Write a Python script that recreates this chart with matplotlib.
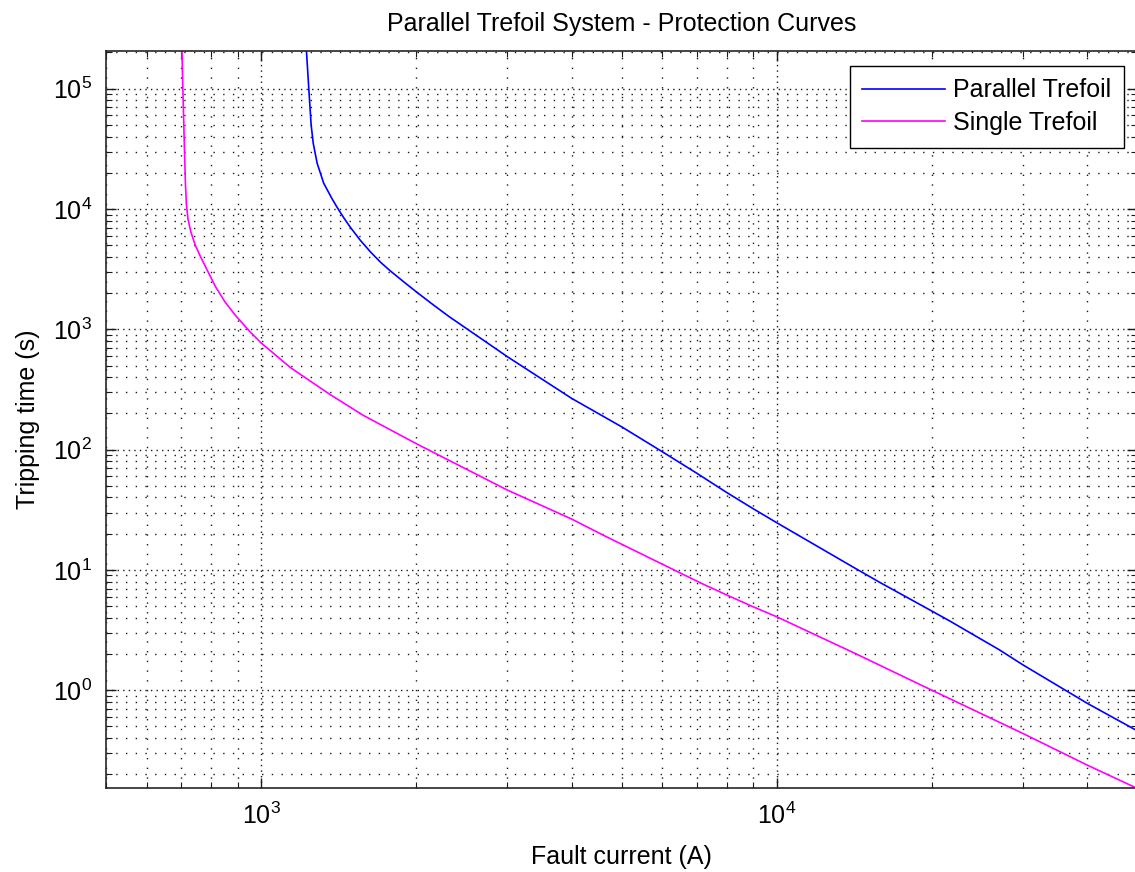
"""
Parallel vs single trefoil protection curves (log-log), MATLAB-like look.
"""

import matplotlib
matplotlib.use("Agg")
import matplotlib.pyplot as plt
from matplotlib.ticker import LogLocator, NullFormatter

# values
single_current = [702, 704, 707, 710, 713, 716, 721, 730, 745, 763, 792, 816, 850, 892,
                  950, 1000, 1140, 1362, 1580, 2000, 3000, 4000, 4682, 7102, 8000,
                  9000, 10000, 14100, 20000, 21670, 30000, 40000, 50000]
single_time = [207000, 120000, 60000, 30000, 16000, 11000, 8300, 6500, 5000, 4000, 2900,
               2250, 1700, 1300, 960, 770, 480, 286, 192, 112, 46.2, 26.5, 18.8, 7.83,
               6.19, 4.94, 4.08, 2.05, 1.00, 0.85, 0.438, 0.239, 0.153]

parallel_current = [1224, 1237, 1250, 1262, 1284, 1322, 1370, 1404, 1446, 1489, 1557,
                    1628, 1703, 1780, 1890, 2006, 2129, 2311, 3000, 4000, 5000,
                    6000, 7000, 8000, 9000, 10000, 14100, 15830, 20000, 21670, 27070,
                    30000, 40000, 50000]
parallel_time = [207000, 100000, 50000, 35000, 24000, 16400, 12330, 10310, 8460, 7055,
                 5495, 4417, 3620, 3060, 2482, 2028, 1666, 1282, 594, 267, 155,
                 96, 63.6, 44, 32.3, 24.7, 10.5, 7.9, 4.55, 3.76, 2.16, 1.63, 0.78,
                 0.461]

x_ticks = [1e3, 1e4]
y_ticks = [1e0, 1e1, 1e2, 1e3, 1e4, 1e5]

labels = ["Parallel Trefoil", "Single Trefoil"]
title = "Parallel Trefoil System - Protection Curves"
x_label = "Fault current (A)"
y_label = "Tripping time (s)"

plt.rcParams["font.family"] = ["Liberation Sans", "DejaVu Sans"]
plt.rcParams["mathtext.fontset"] = "custom"
plt.rcParams["mathtext.rm"] = "Liberation Sans"
plt.rcParams["mathtext.it"] = "Liberation Sans:italic"
plt.rcParams["font.size"] = 18

W, H = 1135, 872
fig = plt.figure(figsize=(W / 100, H / 100), dpi=100)
left, right, top, bottom = 106, 1137, 50.7, 788.3
ax = fig.add_axes([left / W, (H - bottom) / H, (right - left) / W, (bottom - top) / H])

ax.plot(parallel_current, parallel_time, color="#0000ff", lw=1.2, label=labels[0])
ax.plot(single_current, single_time, color="#ff00ff", lw=1.2, label=labels[1])

ax.set_xscale("log")
ax.set_yscale("log")
ax.set_xticks(x_ticks)
ax.set_yticks(y_ticks)
ax.set_xlim(500, 50000)
ax.set_ylim(0.153, 207000)

for axis in (ax.xaxis, ax.yaxis):
    axis.set_minor_locator(LogLocator(base=10, subs=range(2, 10), numticks=20))
    axis.set_minor_formatter(NullFormatter())

ax.tick_params(which="both", direction="in", top=True, right=True, color="0.1")
ax.tick_params(which="major", length=7, width=1, pad=10)
ax.tick_params(which="minor", length=4, width=0.8)

# dotted MATLAB style grid
ax.grid(True, which="major", color="0.1", lw=1.0, linestyle=(0, (1, 3)))
ax.grid(True, which="minor", color="0.1", lw=1.0, linestyle=(0, (1, 6)))
ax.set_axisbelow(True)

for s in ax.spines.values():
    s.set_linewidth(1.2)
    s.set_color("0.15")

ax.set_title(title, fontsize=18, pad=14)
ax.set_xlabel(x_label, labelpad=12)
ax.set_ylabel(y_label, labelpad=9)

leg = ax.legend(loc="upper right", bbox_to_anchor=(0.9874, 0.9793), borderaxespad=0,
                fancybox=False, framealpha=1, edgecolor="black", handlelength=3.3,
                handletextpad=0.35, borderpad=0.5, labelspacing=0.35)
leg.get_frame().set_linewidth(1.0)

fig.savefig("out.png", dpi=100)
